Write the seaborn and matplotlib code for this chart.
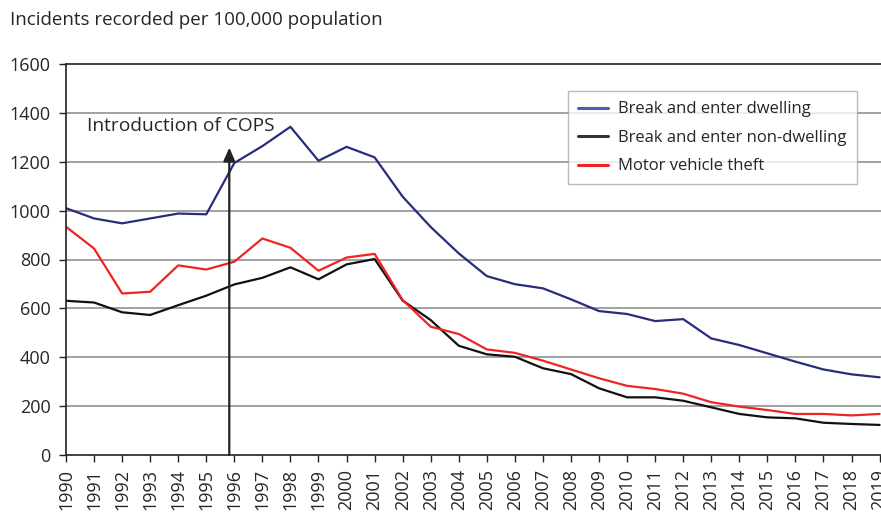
import pandas as pd
import matplotlib
matplotlib.use("Agg")
import matplotlib.pyplot as plt
import seaborn as sns

# Recorded incidents per 100,000 population, 1990-2019
years = list(range(1990, 2020))
dwelling = [1010, 968, 948, 968, 988, 985, 1195, 1264, 1343, 1204,
            1261, 1218, 1057, 933, 825, 732, 699, 682, 637, 589,
            577, 548, 556, 477, 450, 416, 382, 350, 330, 318]
non_dwelling = [631, 624, 584, 573, 613, 652, 698, 725, 768, 719,
                780, 802, 632, 552, 447, 412, 402, 355, 331, 273,
                236, 236, 222, 195, 168, 154, 150, 132, 127, 123]
vehicle_theft = [934, 845, 661, 668, 776, 759, 791, 886, 848, 754,
                 808, 823, 634, 525, 495, 432, 418, 386, 350, 314,
                 283, 270, 251, 216, 198, 184, 168, 168, 162, 168]
series_names = ["Break and enter dwelling", "Break and enter non-dwelling", "Motor vehicle theft"]
yticks = [0, 200, 400, 600, 800, 1000, 1200, 1400, 1600]

df = pd.DataFrame({
    "year": years * 3,
    "rate": dwelling + non_dwelling + vehicle_theft,
    "series": [series_names[0]] * 30 + [series_names[1]] * 30 + [series_names[2]] * 30,
})

sns.set_style("white")
plt.rcParams['font.family'] = ['Open Sans', 'DejaVu Sans']

fig = plt.figure(figsize=(8.81, 5.15), dpi=100)
ax = fig.add_axes([66 / 881, 60 / 515, 815 / 881, 391 / 515])

palette = {series_names[0]: "#272d7c", series_names[1]: "#111111", series_names[2]: "#ee2424"}
sns.lineplot(data=df, x="year", y="rate", hue="series", palette=palette,
             linewidth=1.6, ax=ax, legend=False)

# grid lines
for v in yticks[1:-1]:
    ax.axhline(v, color="#9a9a9a", linewidth=1.3, zorder=0)

ax.set_xlim(1990, 2019.05)
ax.set_ylim(0, 1600)
ax.set_xticks(years)
ax.set_xticklabels([str(y) for y in years], rotation=90, fontsize=13)
ax.set_yticks(yticks)
ax.set_yticklabels([str(v) for v in yticks], fontsize=13)
ax.tick_params(axis="both", direction="out", length=5, width=1, color="#222222",
               bottom=True, left=True)
ax.tick_params(axis="y", pad=6)
ax.tick_params(axis="x", pad=5)
ax.set_xlabel("")
ax.set_ylabel("")
for side in ["top", "left", "bottom"]:
    ax.spines[side].set_color("#222222")
    ax.spines[side].set_linewidth(1.2)
ax.spines["right"].set_visible(False)

fig.text(10 / 881, 1 - 20 / 515, "Incidents recorded per 100,000 population",
         fontsize=13.5, va="center", ha="left")

# COPS annotation
ax.annotate("", xy=(1995.82, 1258), xytext=(1995.82, 0),
            arrowprops=dict(arrowstyle="-|>,head_width=0.35,head_length=0.8",
                            color="#222222", linewidth=1.6, shrinkA=0, shrinkB=0))
ax.text(1990.75, 1345, "Introduction of COPS", fontsize=13.8, va="center", ha="left")

handles = [plt.Line2D([], [], color=c, linewidth=2.2)
           for c in ["#4a5db4", "#333333", "#ee2424"]]
leg = ax.legend(handles, series_names, loc="upper left", bbox_to_anchor=(0.616, 0.93),
                frameon=True, fancybox=False, fontsize=12, handlelength=1.8,
                handletextpad=0.6, borderpad=0.6, labelspacing=0.75, borderaxespad=0)
leg.get_frame().set_edgecolor("#aaaaaa")
leg.get_frame().set_linewidth(1)

fig.savefig("out.png", dpi=100)
